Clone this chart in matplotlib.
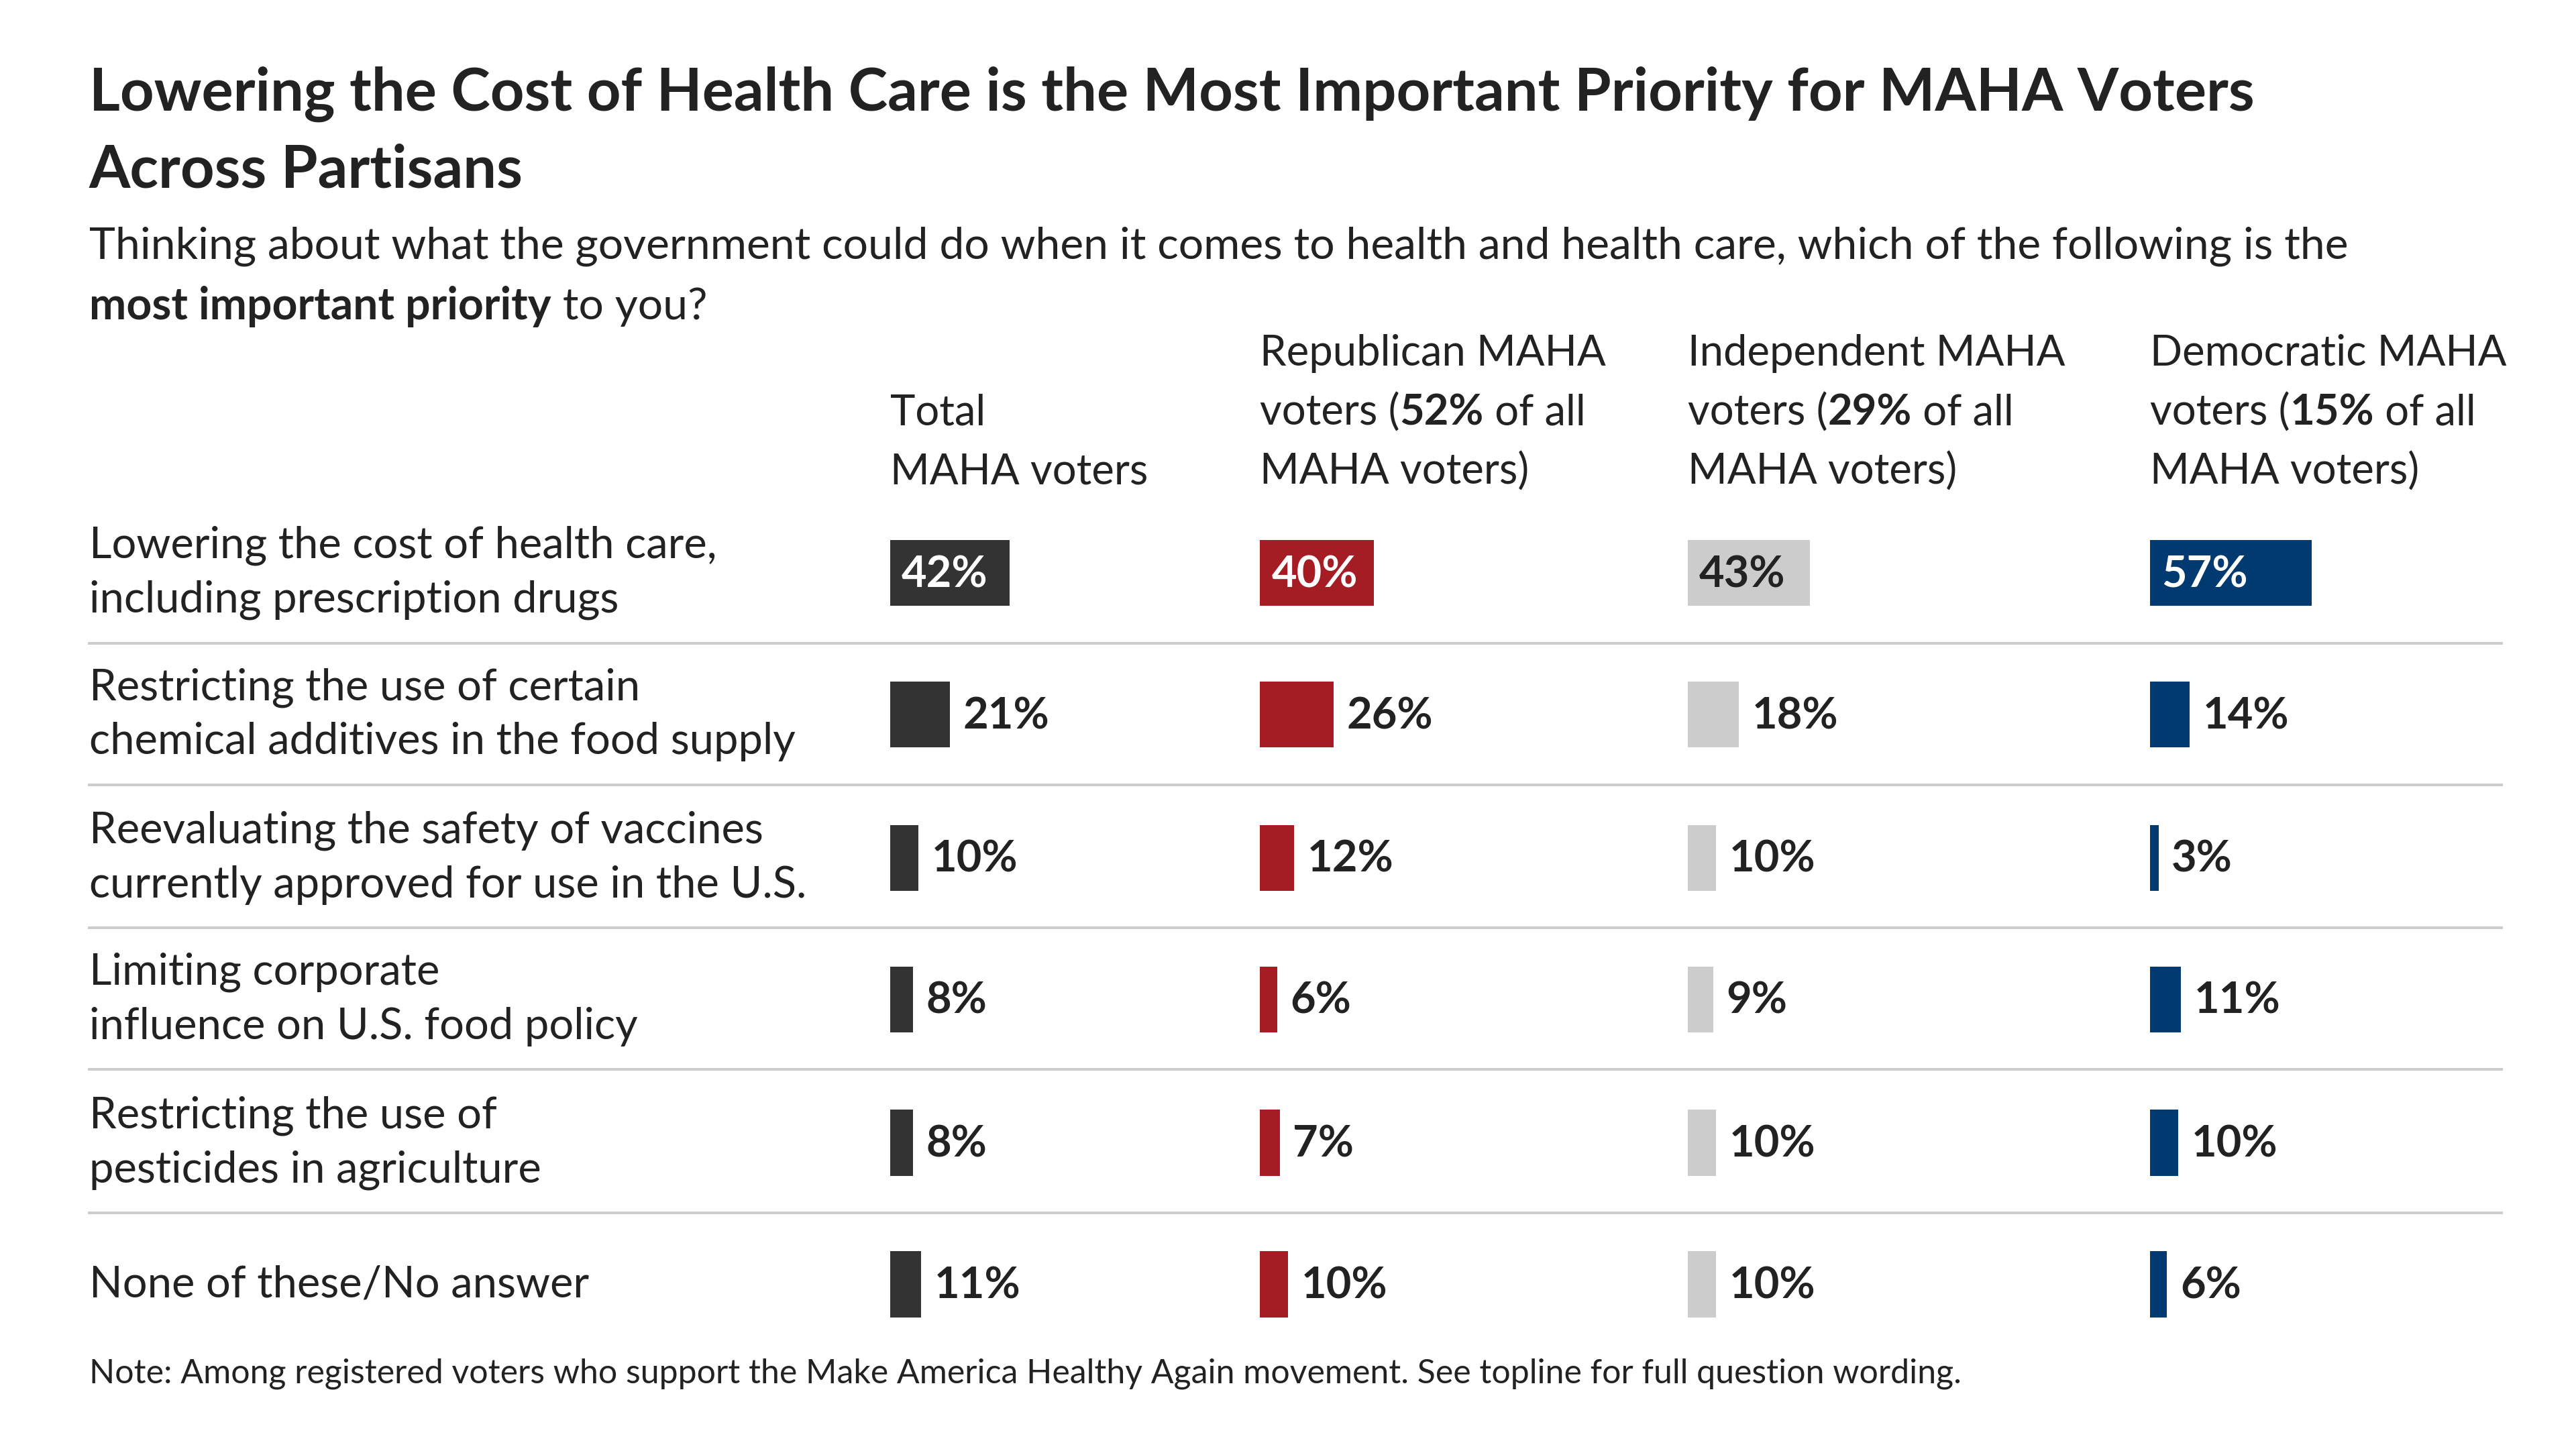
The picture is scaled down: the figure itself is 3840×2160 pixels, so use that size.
import matplotlib
matplotlib.use("Agg")
import matplotlib.pyplot as plt

categories = ["Lowering the cost of health care,\nincluding prescription drugs",
              "Restricting the use of certain\nchemical additives in the food supply",
              "Reevaluating the safety of vaccines\ncurrently approved for use in the U.S.",
              "Limiting corporate\ninfluence on U.S. food policy",
              "Restricting the use of\npesticides in agriculture",
              "None of these/No answer"]
total = [42, 21, 10, 8, 8, 11]
republican = [40, 26, 12, 6, 7, 10]
independent = [43, 18, 10, 9, 10, 10]
democratic = [57, 14, 3, 11, 10, 6]
series = [total, republican, independent, democratic]
colors = ["#333333", "#A51C24", "#CCCCCC", "#003A70"]
headers = [[["Total"], ["MAHA voters"]],
           [["Republican MAHA"], ["voters (", "*52%", " of all"], ["MAHA voters)"]],
           [["Independent MAHA"], ["voters (", "*29%", " of all"], ["MAHA voters)"]],
           [["Democratic MAHA"], ["voters (", "*15%", " of all"], ["MAHA voters)"]]]

FONT = "Lato"
TXT = "#222222"
fig = plt.figure(figsize=(16, 9), dpi=240)
ax = fig.add_axes([0, 0, 1, 1])
ax.set_xlim(0, 1560); ax.set_ylim(880, 0); ax.axis("off")
fig.canvas.draw()
R = fig.canvas.get_renderer()

def rich(x, y, parts, size, va="baseline"):
    for p in parts:
        bold = p.startswith("*")
        s = p[1:] if bold else p
        t = ax.text(x, y, s, fontsize=size, fontweight="bold" if bold else "normal",
                    family=FONT, color=TXT, va=va, ha="left")
        bb = t.get_window_extent(R)
        x = ax.transData.inverted().transform((bb.x1, bb.y0))[0]

ax.text(54, 67, "Lowering the Cost of Health Care is the Most Important Priority for MAHA Voters",
        fontsize=26.5, fontweight="bold", family=FONT, color=TXT, va="baseline")
ax.text(54, 114, "Across Partisans",
        fontsize=26.5, fontweight="bold", family=FONT, color=TXT, va="baseline")
rich(54, 157, ["Thinking about what the government could do when it comes to health and health care, which of the following is the"], 19.8)
rich(54, 194, ["*most important priority", " to you?"], 19.8)

colx = [539, 763, 1022, 1302]
for cx, h in zip(colx, headers):
    n = len(h)
    for i, line in enumerate(h):
        y = 294 - (n - 1 - i) * 36
        rich(cx, y, line, 19)

rows_y = [348, 434, 521, 607, 694, 780]
scale = 1.72
for i, (lab, y) in enumerate(zip(categories, rows_y)):
    ax.text(54, y, lab, fontsize=19.5, family=FONT, color=TXT, va="center", linespacing=1.45)
    if i < len(rows_y) - 1:
        ax.plot([54, 1515], [y + 42.5, y + 42.5], color="#CCCCCC", lw=1.2)
for cx, vals, c in zip(colx, series, colors):
    ax.barh(rows_y, [v * scale for v in vals], left=cx, height=40, color=c)
    for i, (v, y) in enumerate(zip(vals, rows_y)):
        if i == 0:
            tc = "#222222" if c == "#CCCCCC" else "white"
            ax.text(cx + 7, y + 1, f"{v}%", fontsize=19.5, fontweight="bold", family=FONT,
                    color=tc, va="center", ha="left")
        else:
            ax.text(cx + v * scale + 8, y + 1, f"{v}%", fontsize=19.5, fontweight="bold",
                    family=FONT, color=TXT, va="center", ha="left")

ax.text(54, 840, "Note: Among registered voters who support the Make America Healthy Again movement. See topline for full question wording.",
        fontsize=15, family=FONT, color=TXT, va="baseline")
fig.savefig("out.png", dpi=240, facecolor="white")
